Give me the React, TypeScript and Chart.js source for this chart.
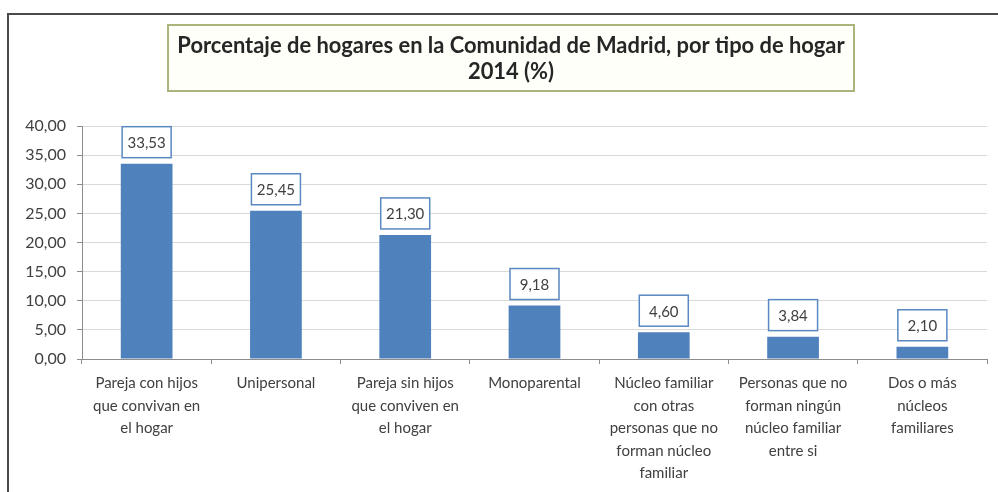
import React, { useEffect, useRef } from "react";
import { Chart, registerables } from "chart.js";

Chart.register(...registerables);

const categories: string[][] = [
  ["Pareja con hijos", "que convivan en", "el hogar"],
  ["Unipersonal"],
  ["Pareja sin hijos", "que conviven en", "el hogar"],
  ["Monoparental"],
  ["Núcleo familiar", "con otras", "personas que no", "forman núcleo", "familiar"],
  ["Personas que no", "forman ningún", "núcleo familiar", "entre si"],
  ["Dos o más", "núcleos", "familiares"],
];

const values: number[] = [33.53, 25.45, 21.3, 9.18, 4.6, 3.84, 2.1];

const titleLines: string[] = [
  "Porcentaje de hogares en la Comunidad de Madrid, por tipo de hogar",
  "2014 (%)",
];

const yMin = 0;
const yMax = 40;
const yStep = 5;

const fmt = (v: number) => v.toFixed(2).replace(".", ",");

const FONT = "Lato, 'Open Sans', sans-serif";
const TEXT = "#404040";

const framePlugin = {
  id: "frameAndTitle",
  beforeDraw(chart: any) {
    const ctx = chart.ctx;
    ctx.save();
    ctx.fillStyle = "#ffffff";
    ctx.fillRect(0, 0, chart.width, chart.height);
    // outer frame
    ctx.strokeStyle = "#4a4a4a";
    ctx.lineWidth = 2;
    ctx.beginPath();
    ctx.moveTo(8, chart.height + 2);
    ctx.lineTo(8, 14);
    ctx.lineTo(chart.width + 2, 14);
    ctx.stroke();
    // title box
    const bx = 168, by = 25, bw = 686, bh = 66;
    ctx.fillStyle = "#fffffa";
    ctx.fillRect(bx, by, bw, bh);
    ctx.strokeStyle = "#a9b57c";
    ctx.lineWidth = 2;
    ctx.strokeRect(bx, by, bw, bh);
    // title text
    ctx.fillStyle = "#262626";
    ctx.textAlign = "center";
    ctx.textBaseline = "middle";
    let size = 18;
    ctx.font = `bold ${size}px ${FONT}`;
    const w = ctx.measureText(titleLines[0]).width;
    size = size * (668 / w);
    ctx.font = `bold ${size}px ${FONT}`;
    const cx = bx + bw / 2;
    ctx.fillText(titleLines[0], cx, 46);
    ctx.fillText(titleLines[1], cx, 72);
    ctx.restore();
  },
};

const labelPlugin = {
  id: "boxedLabels",
  afterDatasetsDraw(chart: any) {
    const ctx = chart.ctx;
    const meta = chart.getDatasetMeta(0);
    const data = chart.data.datasets[0].data as number[];
    ctx.save();
    ctx.font = `15px ${FONT}`;
    ctx.textAlign = "center";
    ctx.textBaseline = "middle";
    meta.data.forEach((el: any, i: number) => {
      const w = 49;
      const h = 31;
      const x = el.x - w / 2;
      const y = el.y - 6 - h;
      ctx.fillStyle = "#ffffff";
      ctx.fillRect(x, y, w, h);
      ctx.strokeStyle = "#5a88c2";
      ctx.lineWidth = 1.5;
      ctx.strokeRect(x, y, w, h);
      ctx.fillStyle = TEXT;
      ctx.fillText(fmt(data[i]), el.x, y + h / 2 + 1);
    });
    ctx.restore();
  },
};

export default function App() {
  const ref = useRef<HTMLCanvasElement | null>(null);

  useEffect(() => {
    if (!ref.current) return;
    const chart = new Chart(ref.current, {
      type: "bar",
      data: {
        labels: categories,
        datasets: [
          {
            data: values,
            backgroundColor: "#4f81bd",
            borderWidth: 0,
            barPercentage: 0.4,
            categoryPercentage: 1.0,
          },
        ],
      },
      options: {
        animation: false,
        responsive: false,
        maintainAspectRatio: false,
        layout: { padding: { left: 0, right: 11, top: 126, bottom: 0 } },
        plugins: {
          legend: { display: false },
          title: { display: false },
          tooltip: { enabled: false },
        },
        scales: {
          x: {
            afterFit: (s: any) => {
              s.height = 133;
            },
            grid: {
              offset: true,
              drawOnChartArea: false,
              drawTicks: true,
              tickLength: 5,
              color: "#8c8c8c",
            },
            border: { color: "#8c8c8c", width: 1 },
            ticks: {
              color: TEXT,
              font: { family: FONT, size: 15, lineHeight: 1.5 },
              padding: 8,
              maxRotation: 0,
              autoSkip: false,
            },
          },
          y: {
            min: yMin,
            max: yMax,
            afterFit: (s: any) => {
              s.width = 82;
            },
            grid: {
              color: "#d9d9d9",
              tickColor: "#8c8c8c",
              drawTicks: true,
              tickLength: 5,
            },
            border: { color: "#8c8c8c", width: 1 },
            ticks: {
              stepSize: yStep,
              color: TEXT,
              font: { family: FONT, size: 16 },
              padding: 11,
              callback: (v: any) => fmt(Number(v)),
            },
          },
        },
      },
      plugins: [framePlugin, labelPlugin],
    });
    return () => chart.destroy();
  }, []);

  return (
    <div style={{ position: "fixed", left: 0, top: 0, width: 998, height: 492 }}>
      <canvas ref={ref} width={998} height={492} style={{ width: 998, height: 492, display: "block" }} />
    </div>
  );
}
